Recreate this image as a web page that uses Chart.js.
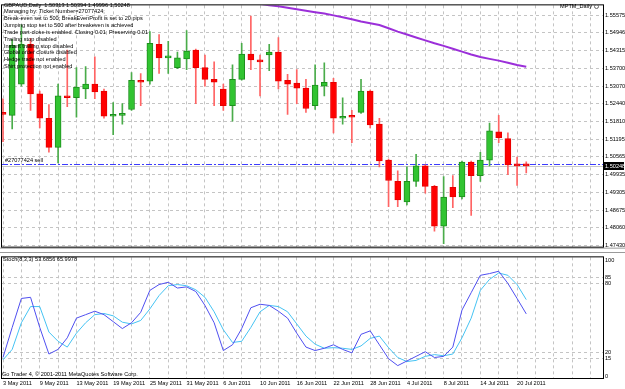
<!DOCTYPE html>
<html>
<head>
<meta charset="utf-8">
<title>GBPAUD,Daily</title>
<script src="https://cdn.jsdelivr.net/npm/chart.js@4.4.1/dist/chart.umd.min.js"></script>
<style>
  html, body { margin: 0; padding: 0; background: #fff; }
  body { position: relative; width: 625px; height: 389px; overflow: hidden; font-family: 'Liberation Sans', Arial, sans-serif; }
  canvas { position: absolute; left: 0; }
  #priceChart { top: 0; }
  #stochChart { top: 252px; }
  .mt-text { position: absolute; font-size: 5.6px; line-height: 6.85px; color: #000; white-space: pre; }
  #comment { left: 4px; top: 1.5px; }
  #indName { left: 560px; top: 3px; }
  #indName i { display: inline-block; width: 3px; height: 3px; border: 1px solid #666; border-radius: 50%; margin-left: 2px; vertical-align: -1px; }
  #stochName { left: 3px; top: 256px; }
  #copyright { left: 2px; top: 370.5px; }
</style>
</head>
<body>
<canvas id="priceChart" width="625" height="252"></canvas>
<canvas id="stochChart" width="625" height="137"></canvas>
<div class="mt-text" id="comment"></div>
<div class="mt-text" id="indName">MPTM_Daily<i></i></div>
<div class="mt-text" id="stochName">Stoch(8,3,3) 53.6856 65.9978</div>
<div class="mt-text" id="copyright">Go Trader 4, © 2001-2011 MetaQuotes Software Corp.</div>
<script>
// GBPAUD daily bars, 3 May 2011 .. 21 Jul 2011
var opens = [1.52138, 1.52035, 1.53135, 1.54544, 1.52791, 1.51932, 1.50901, 1.52722, 1.52654, 1.52963,
  1.53135, 1.52894, 1.52000, 1.52035, 1.52241, 1.53272, 1.53238, 1.54544, 1.54063, 1.53719,
  1.54028, 1.54338, 1.53719, 1.53307, 1.52963, 1.52379, 1.53307, 1.54200, 1.53994, 1.54166,
  1.54269, 1.53272, 1.53169, 1.52997, 1.52379, 1.53066, 1.53203, 1.51932, 1.52000, 1.52138,
  1.52894, 1.51726, 1.50454, 1.49698, 1.48976, 1.49698, 1.50248, 1.49526, 1.48117, 1.49491,
  1.49148, 1.50385, 1.49904, 1.50454, 1.51451, 1.51210, 1.50282, 1.50313];
var highs = [1.52619, 1.54716, 1.55231, 1.54750, 1.52894, 1.52413, 1.53135, 1.54338, 1.53719, 1.53753,
  1.54097, 1.52963, 1.52482, 1.52447, 1.53547, 1.53513, 1.54991, 1.54888, 1.54647, 1.54269,
  1.55025, 1.54372, 1.54166, 1.53925, 1.53135, 1.53822, 1.54578, 1.55541, 1.54166, 1.54544,
  1.54784, 1.53478, 1.53650, 1.53307, 1.53822, 1.53891, 1.53341, 1.52654, 1.52207, 1.53307,
  1.52929, 1.51932, 1.50488, 1.50076, 1.50213, 1.50660, 1.50282, 1.49560, 1.49870, 1.49904,
  1.50419, 1.50419, 1.50729, 1.51760, 1.52035, 1.51416, 1.50557, 1.50394];
var lows = [1.51107, 1.51554, 1.53066, 1.52207, 1.51588, 1.50729, 1.50351, 1.52344, 1.51966, 1.52619,
  1.52619, 1.51932, 1.51347, 1.51726, 1.52207, 1.52379, 1.53135, 1.53513, 1.53513, 1.53685,
  1.53650, 1.52447, 1.53066, 1.52379, 1.52207, 1.51829, 1.53272, 1.53650, 1.52722, 1.53616,
  1.52963, 1.52069, 1.52447, 1.52138, 1.52241, 1.52722, 1.51416, 1.51726, 1.51072, 1.52104,
  1.51588, 1.50213, 1.48804, 1.48804, 1.48873, 1.49526, 1.49285, 1.47945, 1.47498, 1.48770,
  1.49079, 1.48495, 1.49698, 1.50248, 1.51072, 1.49938, 1.49560, 1.49996];
var closes = [1.52069, 1.54510, 1.54544, 1.52791, 1.51932, 1.50901, 1.52722, 1.52654, 1.53032, 1.53135,
  1.52860, 1.52000, 1.52069, 1.52104, 1.53272, 1.53203, 1.54578, 1.54063, 1.54097, 1.54063,
  1.54303, 1.53719, 1.53307, 1.53203, 1.52379, 1.53307, 1.54200, 1.53994, 1.53925, 1.54269,
  1.53238, 1.53135, 1.52997, 1.52275, 1.53100, 1.53203, 1.51932, 1.52000, 1.51966, 1.52894,
  1.51691, 1.50419, 1.49732, 1.49045, 1.49698, 1.50248, 1.49526, 1.48117, 1.49148, 1.49148,
  1.50385, 1.49904, 1.50454, 1.51485, 1.51244, 1.50282, 1.50248, 1.50248];

// MPTM_Daily line, first visible value on bar 28
var maStart = 28;
var maValues = [1.55970, 1.55919, 1.55884, 1.55833, 1.55781, 1.55726, 1.55678, 1.55633, 1.55565, 1.55499,
  1.55427, 1.55352, 1.55290, 1.55224, 1.55111, 1.54991, 1.54888, 1.54784, 1.54681, 1.54578,
  1.54489, 1.54386, 1.54283, 1.54184, 1.54097, 1.54028, 1.53966, 1.53891, 1.53812, 1.53753];

// Stoch(8,3,3)
var stochMain = [16, 42, 67, 68, 42, 19, 23, 33, 50, 53,
  56, 53, 47, 41, 46, 55, 74, 79, 81, 76,
  77, 73, 61, 46, 22, 27, 41, 59, 62, 61,
  56, 50, 37, 25, 22, 24, 27, 23, 20, 36,
  39, 27, 15, 9, 13, 17, 21, 16, 17, 25,
  57, 72, 87, 88.5, 90.5, 80, 67, 53.6856];
var stochSignal = [14, 23, 46, 60, 60, 38, 30, 25, 37, 46,
  53, 54, 52, 46.5, 45, 48, 58, 69.5, 78, 79,
  78, 74.5, 68, 55.5, 40, 29, 30, 42, 55.5, 61,
  60, 55.5, 45, 34.5, 27.5, 24, 24.5, 24, 23, 26,
  32.5, 34.5, 24.5, 16, 12.5, 13.5, 17, 18.5, 17.5, 19,
  33, 50, 74, 83.5, 89, 87, 79, 65.9978];

// axis labels
var dateLabels = ['3 May 2011', '9 May 2011', '13 May 2011', '19 May 2011', '25 May 2011', '31 May 2011',
  '6 Jun 2011', '10 Jun 2011', '16 Jun 2011', '22 Jun 2011', '28 Jun 2011', '4 Jul 2011',
  '8 Jul 2011', '14 Jul 2011', '20 Jul 2011'];
var labelStep = 4;
var priceTicks = [1.55575, 1.54946, 1.54315, 1.53700, 1.53070, 1.52440, 1.51810, 1.51195,
  1.50565, 1.49935, 1.49305, 1.48675, 1.48060, 1.47430];
var stochTicks = [100, 85, 80, 20, 15, 0];
var stochLevels = [85, 80, 20, 15];

var orderPrice = 1.50282;
var orderLabel = '#27077424 sell';
var commentLines = [
  'GBPAUD,Daily  1.50313 1.50394 1.49996 1.50248',
  'Managing by: Ticket Number=27077424;',
  'Break-even set to 500; BreakEvenProfit is set to 20 pips',
  'Jumping stop set to 500 after breakeven is achieved',
  'Trade part-close is enabled. Closing 0.01; Preserving 0.01',
  'Trailing stop disabled',
  'Instant trailing stop disabled',
  'Global order closure disabled',
  'Hedge trade not enabled',
  'Shirt protection not enabled'
];

document.getElementById('comment').textContent = commentLines.join('\n');

var FONT = "'Liberation Sans', Arial, sans-serif";
Chart.defaults.font.family = FONT;
Chart.defaults.font.size = 5.6;
Chart.defaults.color = '#000';

var GRID = '#c4c4c4';
var xMin = -0.11, xMax = 65.36;   // bar 0 sits 1px right of the window edge

function gridTicks(scale) {
  var t = [];
  for (var v = 0; v <= xMax; v += 2) t.push({ value: v });
  scale.ticks = t;
}

var bars = opens.map(function (o, i) { return i; });
var isUp = bars.map(function (i) { return closes[i] > opens[i]; });

// window frame + grey splitter between the two windows
var frame = {
  id: 'frame',
  afterDraw: function (chart) {
    var a = chart.chartArea, ctx = chart.ctx;
    ctx.save();
    ctx.fillStyle = '#9a9a9a';
    if (chart.canvas.id === 'priceChart') ctx.fillRect(0, a.bottom + 1, chart.width, 1);
    else ctx.fillRect(0, 0, chart.width, 1);
    ctx.strokeStyle = '#000';
    ctx.lineWidth = 1;
    ctx.strokeRect(a.left - 0.5, a.top - 0.5, a.right - a.left + 1, a.bottom - a.top + 1);
    ctx.restore();
  }
};

// bid line, order line and current price box
var tradeLines = {
  id: 'tradeLines',
  beforeDatasetsDraw: function (chart) {
    var ctx = chart.ctx, a = chart.chartArea, ys = chart.scales.y;
    var bidY = Math.round(ys.getPixelForValue(closes[closes.length - 1])) + 0.5;
    var ordY = Math.round(ys.getPixelForValue(orderPrice)) - 0.5;
    ctx.save();
    ctx.strokeStyle = '#c8c8c8';
    ctx.lineWidth = 1;
    ctx.beginPath(); ctx.moveTo(a.left, bidY); ctx.lineTo(a.right, bidY); ctx.stroke();
    ctx.strokeStyle = '#3c3cff';
    ctx.setLineDash([6, 2, 2, 2]);
    ctx.beginPath(); ctx.moveTo(a.left, ordY); ctx.lineTo(a.right, ordY); ctx.stroke();
    ctx.fillStyle = '#000';
    ctx.font = '5.6px ' + FONT;
    ctx.textBaseline = 'bottom';
    ctx.fillText(orderLabel, a.left + 3, ordY - 1);
    ctx.restore();
  },
  afterDraw: function (chart) {
    var ctx = chart.ctx, a = chart.chartArea, ys = chart.scales.y;
    var last = closes[closes.length - 1];
    var y = Math.round(ys.getPixelForValue(last));
    ctx.save();
    ctx.fillStyle = '#000';
    ctx.fillRect(a.right + 1, y - 4, 20, 8);
    ctx.fillStyle = '#fff';
    ctx.font = '5.6px ' + FONT;
    ctx.textBaseline = 'middle';
    ctx.fillText(last.toFixed(5), a.right + 2, y);
    ctx.restore();
  }
};

new Chart(document.getElementById('priceChart'), {
  type: 'bar',
  data: {
    datasets: [
      {
        type: 'line',
        data: maValues.map(function (v, j) { return { x: maStart + j, y: v }; }),
        borderColor: '#9b2fd9', borderWidth: 2, pointRadius: 0, tension: 0, order: 0
      },
      {
        data: bars.map(function (i) { return { x: i, y: [opens[i], closes[i]] }; }),
        backgroundColor: isUp.map(function (u) { return u ? '#31c431' : '#ff0000'; }),
        borderColor: isUp.map(function (u) { return u ? '#1e8f1e' : '#e60000'; }),
        borderWidth: 1, borderSkipped: false, barThickness: 6, minBarLength: 2,
        grouped: false, order: 1
      },
      {
        data: bars.map(function (i) { return { x: i, y: [lows[i], highs[i]] }; }),
        backgroundColor: isUp.map(function (u) { return u ? '#4aac4a' : '#ff6464'; }),
        borderWidth: 0, barThickness: 1, grouped: false, order: 2
      }
    ]
  },
  options: {
    responsive: false, maintainAspectRatio: false, animation: false, devicePixelRatio: 1, events: [],
    layout: { padding: { left: 2, top: 2, right: 0, bottom: 2 } },
    plugins: { legend: { display: false }, tooltip: { enabled: false } },
    scales: {
      x: {
        type: 'linear', min: xMin, max: xMax, offset: false,
        afterBuildTicks: gridTicks,
        afterFit: function (s) { s.height = 0; },
        ticks: { display: false },
        grid: { color: GRID, drawTicks: false, offset: false },
        border: { display: false, dash: [3, 3] }
      },
      y: {
        position: 'right', min: 1.47395, max: 1.55919,
        afterBuildTicks: function (s) { s.ticks = priceTicks.map(function (v) { return { value: v }; }); },
        afterFit: function (s) { s.width = 22; },
        ticks: { padding: 2, callback: function (v) { return v.toFixed(5); } },
        grid: { color: GRID, drawTicks: false },
        border: { display: false, dash: [3, 3] }
      }
    }
  },
  plugins: [tradeLines, frame]
});

new Chart(document.getElementById('stochChart'), {
  type: 'line',
  data: {
    datasets: [
      {
        data: stochMain.map(function (v, i) { return { x: i, y: v }; }),
        borderColor: '#4f4ff0', borderWidth: 1, pointRadius: 0, tension: 0
      },
      {
        data: stochSignal.map(function (v, i) { return { x: i, y: v }; }),
        borderColor: '#45c3f3', borderWidth: 1, pointRadius: 0, tension: 0
      }
    ]
  },
  options: {
    responsive: false, maintainAspectRatio: false, animation: false, devicePixelRatio: 1, events: [],
    layout: { padding: { left: 2, top: 2, right: 0, bottom: 0 } },
    plugins: { legend: { display: false }, tooltip: { enabled: false } },
    scales: {
      x: {
        type: 'linear', min: xMin, max: xMax,
        afterBuildTicks: gridTicks,
        afterFit: function (s) { s.height = 11; },
        ticks: {
          align: 'start', padding: 2, autoSkip: false, maxRotation: 0,
          callback: function (v) {
            var k = v / labelStep;
            return (v % labelStep === 0 && k < dateLabels.length) ? dateLabels[k] : '';
          }
        },
        grid: { color: GRID, drawTicks: false },
        border: { display: false, dash: [3, 3] }
      },
      y: {
        position: 'right', min: -1.7, max: 102.5,
        afterBuildTicks: function (s) { s.ticks = stochTicks.map(function (v) { return { value: v }; }); },
        afterFit: function (s) { s.width = 22; },
        ticks: { padding: 2, callback: function (v) { return String(v); } },
        grid: {
          drawTicks: false,
          color: function (c) { return stochLevels.indexOf(c.tick.value) >= 0 ? GRID : 'rgba(0,0,0,0)'; }
        },
        border: { display: false, dash: [3, 3] }
      }
    }
  },
  plugins: [frame]
});
</script>
</body>
</html>
